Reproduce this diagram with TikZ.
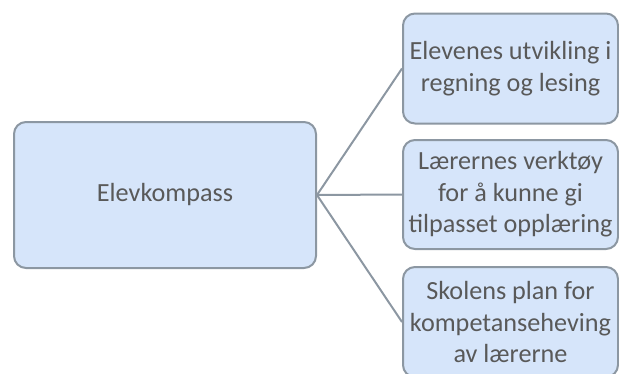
\documentclass[tikz,border=0pt]{standalone}
\usepackage{fontspec}
\setmainfont{Carlito}
\definecolor{boxfill}{HTML}{D6E5FA}
\definecolor{boxline}{HTML}{8C97A2}
\definecolor{txt}{HTML}{595959}
\begin{document}
\begin{tikzpicture}[x=1pt,y=-1pt,
  box/.style={draw=boxline, fill=boxfill, line width=2pt, rounded corners=12pt,
    text=txt, font=\fontsize{26.2}{31.5}\selectfont, align=center, inner sep=0pt},
  conn/.style={draw=boxline, line width=2pt}]
\useasboundingbox (0,0) rectangle (619,373);
\clip (0,0) rectangle (619,373);
\node[box, minimum width=302pt, minimum height=146pt] (root) at (165,195) {Elevkompass};
\node[box, minimum width=215pt, minimum height=110pt] (a) at (510.5,68.5) {Elevenes utvikling i\\regning og lesing};
\node[box, minimum width=215pt, minimum height=109pt] (b) at (510.5,194.5) {Lærernes verktøy\\for å kunne gi\\tilpasset opplæring};
\node[box, minimum width=215pt, minimum height=110pt] (c) at (510.5,322) {Skolens plan for\\kompetanseheving\\av lærerne};
\draw[conn] (root.east) -- (a.west);
\draw[conn] (root.east) -- (b.west);
\draw[conn] (root.east) -- (c.west);
\end{tikzpicture}
\end{document}
